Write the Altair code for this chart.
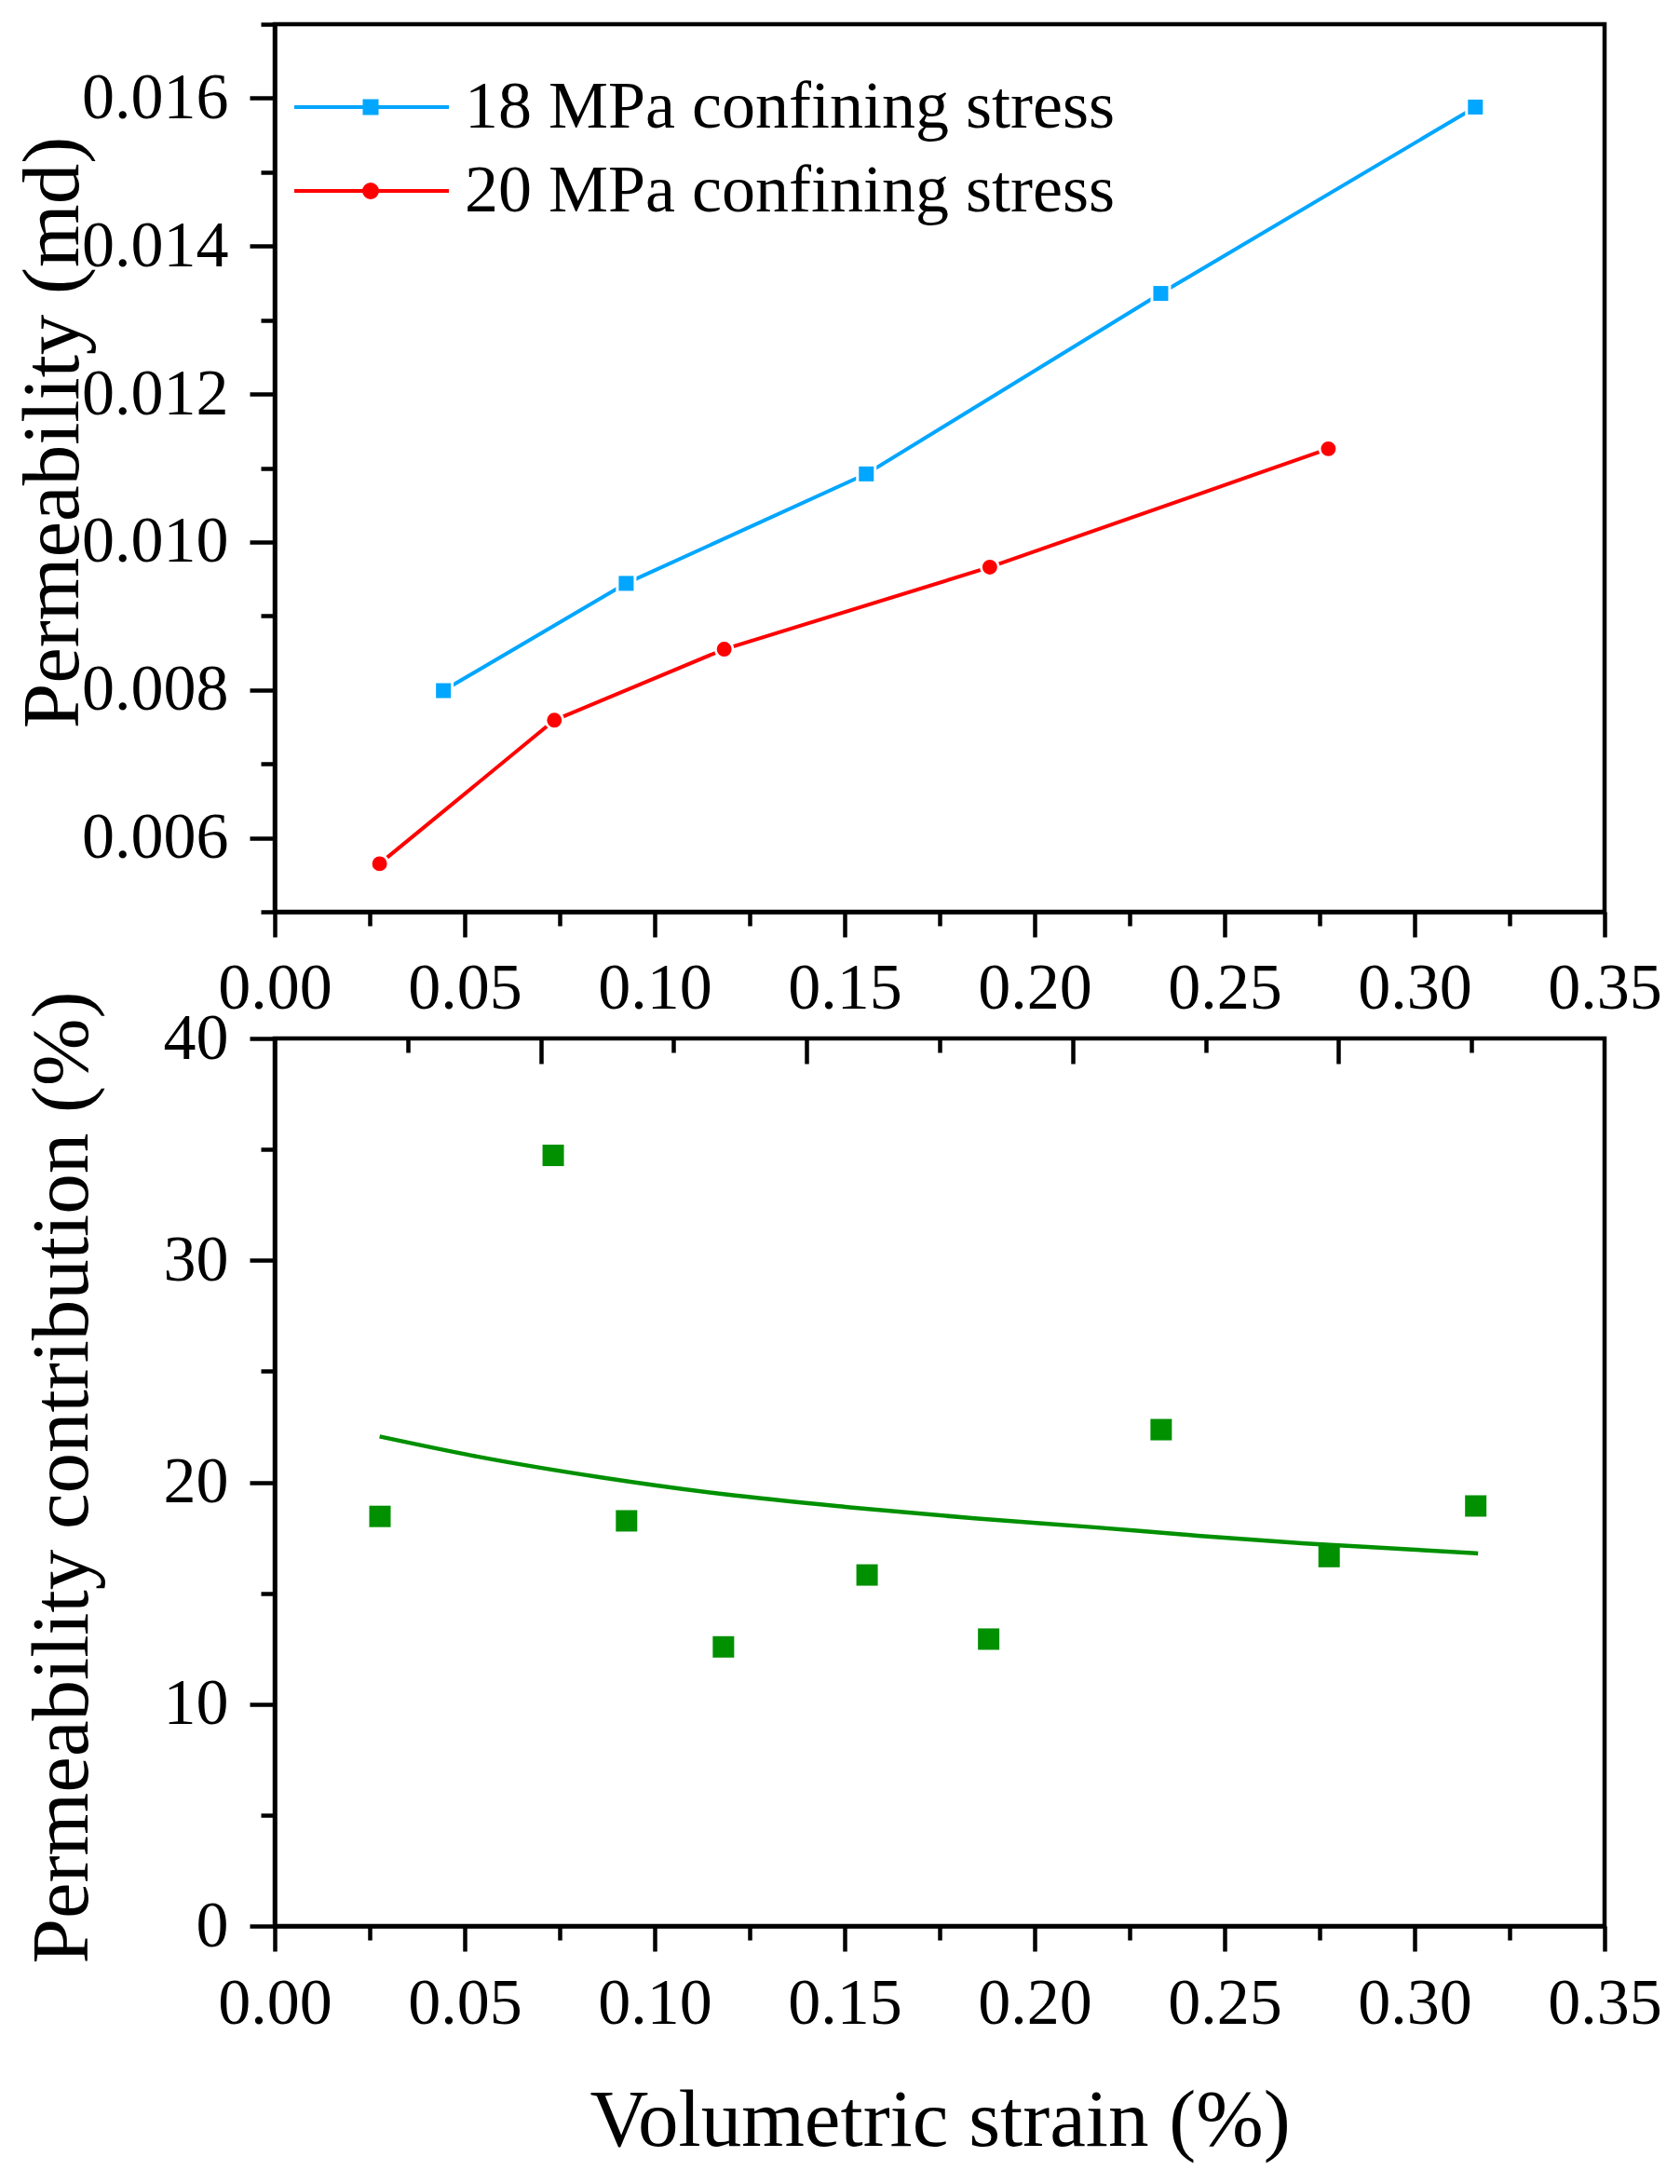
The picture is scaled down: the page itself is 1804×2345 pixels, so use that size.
import altair as alt
import pandas as pd

S18 = "18 MPa confining stress"
S20 = "20 MPa confining stress"

# top panel: permeability vs volumetric strain
strain_18 = [0.0444, 0.0925, 0.1557, 0.2332, 0.3160]
perm_18 = [0.00799, 0.00944, 0.01092, 0.01336, 0.01588]
strain_20 = [0.0276, 0.0736, 0.1183, 0.1882, 0.2773]
perm_20 = [0.00565, 0.00759, 0.00855, 0.00966, 0.01126]

# bottom panel: permeability contribution points and fitted curve
strain_pts = [0.0277, 0.0733, 0.0926, 0.1181, 0.1559, 0.1879, 0.2333, 0.2775, 0.3161]
contrib_pts = [18.46, 34.73, 18.26, 12.58, 15.82, 12.93, 22.37, 16.65, 18.93]
fit_strain = [0.0276, 0.0529, 0.0858, 0.1186, 0.1514, 0.1842, 0.2149, 0.2430, 0.2712, 0.2993, 0.3167]
fit_contrib = [22.06, 21.17, 20.22, 19.45, 18.87, 18.37, 17.98, 17.59, 17.24, 16.97, 16.79]

# tick positions
x_major = [0.0, 0.05, 0.10, 0.15, 0.20, 0.25, 0.30, 0.35]
x_minor = [0.025, 0.075, 0.125, 0.175, 0.225, 0.275, 0.325]
top_major = [0.07, 0.14, 0.21, 0.28]
top_minor = [0.035, 0.105, 0.175, 0.245, 0.315]
perm_major = [0.006, 0.008, 0.010, 0.012, 0.014, 0.016]
perm_minor = [0.005, 0.007, 0.009, 0.011, 0.013, 0.015, 0.017]
contrib_major = [0, 10, 20, 30, 40]
contrib_minor = [5, 15, 25, 35]

BLUE, RED, GREEN = "#00A6FF", "#FF0000", "#009000"
FONT = "Liberation Serif"
W, H = 1428, 953

df18 = pd.DataFrame({"strain": strain_18, "perm": perm_18, "series": S18})
df20 = pd.DataFrame({"strain": strain_20, "perm": perm_20, "series": S20})
perm_df = pd.concat([df18, df20], ignore_index=True)
pts_df = pd.DataFrame({"strain": strain_pts, "contrib": contrib_pts})
fit_df = pd.DataFrame({"strain": fit_strain, "contrib": fit_contrib})

x_scale = alt.Scale(domain=[0, 0.35], nice=False, zero=False)
perm_scale = alt.Scale(domain=[0.005, 0.017], nice=False, zero=False)
contrib_scale = alt.Scale(domain=[0, 40], nice=False, zero=False)
color_scale = alt.Scale(domain=[S18, S20], range=[BLUE, RED])


def x_axis_major(pad, **kw):
    return alt.Axis(orient="bottom", values=x_major, format=".2f", tickSize=27,
                    labelPadding=pad, labelBaseline="alphabetic", **kw)


def minor_axis(orient, values):
    return alt.Axis(orient=orient, values=values, tickSize=15, labels=False,
                    domain=False, title=None)


def inward_top(values, size):
    return alt.Axis(orient="top", values=values, tickSize=size, offset=-size,
                    labels=False, domain=False, title=None)


# legend symbol: line with the marker in the middle (unit = 10 px)
sym_sq = "M-3.8,0H12.8M3.75,-0.65H5.05V0.65H3.75Z"
sym_ci = "M-3.8,0H12.8M3.7,0A0.7,0.7,0,1,1,5.1,0A0.7,0.7,0,1,1,3.7,0Z"
is18 = f"datum.value === '{S18}'"

legend = alt.Legend(
    orient="none", legendX=23, legendY=53, title=None, padding=0,
    symbolSize=400,
    symbolType=alt.ExprRef(expr=f"{is18} ? '{sym_sq}' : '{sym_ci}'"),
    symbolFillColor=alt.ExprRef(expr=f"{is18} ? '{BLUE}' : '{RED}'"),
    symbolStrokeColor=alt.ExprRef(expr=f"{is18} ? '{BLUE}' : '{RED}'"),
    symbolStrokeWidth=4, symbolOpacity=1,
    labelFont=FONT, labelFontSize=72, labelColor="black",
    labelOffset=109, labelLimit=2000, rowPadding=18,
)

perm_line = alt.Chart(perm_df).mark_line(strokeWidth=4).encode(
    x=alt.X("strain:Q", scale=x_scale, axis=x_axis_major(76, title=None)),
    y=alt.Y("perm:Q", scale=perm_scale,
            axis=alt.Axis(orient="left", values=perm_major, format=".3f", tickSize=27,
                          labelPadding=23, title="Permeability (md)", titleAngle=270,
                          titleBaseline="alphabetic", titleX=-212, titleY=438)),
    color=alt.Color("series:N", scale=color_scale, legend=legend),
)

# white halos leave a small gap between the line and each marker
halo_sq = alt.Chart(df18).mark_square(color="white", size=484, opacity=1).encode(
    x=alt.X("strain:Q", scale=x_scale, axis=minor_axis("bottom", x_minor)),
    y=alt.Y("perm:Q", scale=perm_scale, axis=minor_axis("left", perm_minor)),
)
halo_ci = alt.Chart(df20).mark_circle(color="white", size=452, opacity=1).encode(
    x=alt.X("strain:Q", scale=x_scale, axis=None),
    y=alt.Y("perm:Q", scale=perm_scale, axis=None),
)
pts_sq = alt.Chart(df18).mark_square(color=BLUE, size=256, opacity=1).encode(
    x=alt.X("strain:Q", scale=x_scale, axis=None),
    y=alt.Y("perm:Q", scale=perm_scale, axis=None),
)
pts_ci = alt.Chart(df20).mark_circle(color=RED, size=254, opacity=1).encode(
    x=alt.X("strain:Q", scale=x_scale, axis=None),
    y=alt.Y("perm:Q", scale=perm_scale, axis=None),
)

top = alt.layer(perm_line, halo_sq, halo_ci, pts_sq, pts_ci).resolve_axis(
    x="independent", y="independent"
).properties(width=W, height=H)

fit_line = alt.Chart(fit_df).mark_line(color=GREEN, strokeWidth=4.5, interpolate="monotone").encode(
    x=alt.X("strain:Q", scale=x_scale,
            axis=x_axis_major(77, title="Volumetric strain (%)", titleBaseline="alphabetic",
                              titleY=235)),
    y=alt.Y("contrib:Q", scale=contrib_scale,
            axis=alt.Axis(orient="left", values=contrib_major, format="d", tickSize=27,
                          labelPadding=23, title="Permeability contribution (%)",
                          titleAngle=270, titleBaseline="alphabetic", titleX=-202,
                          titleY=471)),
)

contrib_sq = alt.Chart(pts_df).mark_square(color=GREEN, size=529, opacity=1).encode(
    x=alt.X("strain:Q", scale=x_scale, axis=minor_axis("bottom", x_minor)),
    y=alt.Y("contrib:Q", scale=contrib_scale, axis=minor_axis("left", contrib_minor)),
)

# inward ticks on the top edge of the lower panel
top_ticks_major = alt.Chart(fit_df).mark_line(opacity=0).encode(
    x=alt.X("strain:Q", scale=x_scale, axis=inward_top(top_major, 27)),
    y=alt.Y("contrib:Q", scale=contrib_scale, axis=None),
)
top_ticks_minor = alt.Chart(fit_df).mark_line(opacity=0).encode(
    x=alt.X("strain:Q", scale=x_scale, axis=inward_top(top_minor, 15)),
    y=alt.Y("contrib:Q", scale=contrib_scale, axis=None),
)

bottom = alt.layer(fit_line, contrib_sq, top_ticks_major, top_ticks_minor).resolve_axis(
    x="independent", y="independent"
).properties(width=W, height=H)

chart = alt.vconcat(
    top, bottom, spacing=136, bounds="flush",
    padding={"left": 2, "top": 13, "right": 0, "bottom": 4},
).resolve_scale(
    x="independent", y="independent", color="independent"
).configure(
    font=FONT, background="white"
).configure_axis(
    labelFont=FONT, labelFontSize=70, labelColor="black", labelFlush=False,
    labelOverlap=False, titleFont=FONT, titleFontSize=87, titleFontWeight="normal",
    titleColor="black", domainColor="black", domainWidth=4.5, tickColor="black",
    tickWidth=4.5, grid=False,
).configure_view(
    stroke="black", strokeWidth=4.5
)

chart.save("out.html", embed_options={"renderer": "svg", "actions": False})
